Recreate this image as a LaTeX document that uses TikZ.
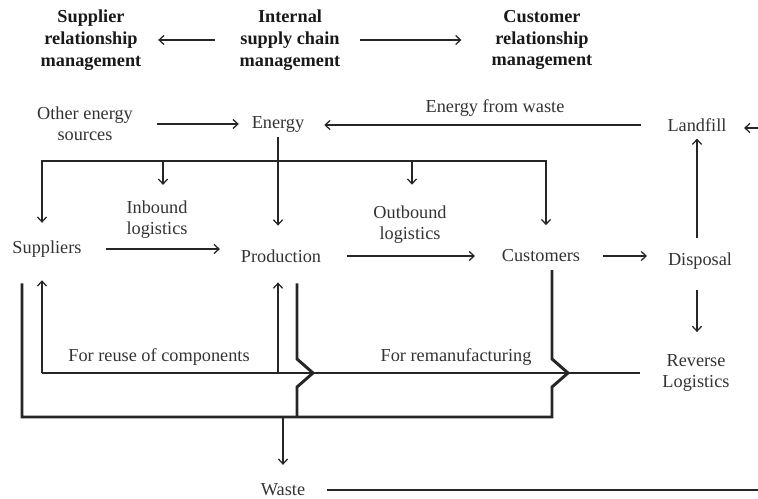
\documentclass[tikz,border=0pt]{standalone}
\usepackage{fontspec}
\setmainfont{Liberation Serif}
\usetikzlibrary{arrows.meta,calc}

\begin{document}
\begin{tikzpicture}[x=0.025cm,y=0.025cm,
    every node/.style={font=\fontsize{13}{15}\selectfont,text=black!80,align=center},
    head/.style={font=\fontsize{13}{15.6}\selectfont\bfseries,text=black!90},
    flow/.style={-{Straight Barb[length=3.5pt,width=6.5pt]},line width=0.9pt,black!85},
    pipe/.style={line width=2.1pt,black!85}]
  \useasboundingbox (0,0) rectangle (758,499);

  % management levels
  \node[head] (srm) at (91,459) {Supplier\\relationship\\management};
  \node[head] (iscm) at (290,459) {Internal\\supply chain\\management};
  \node[head] (crm) at (542,459) {Customer\\relationship\\management};
  \draw[flow,shorten <=14pt,shorten >=8.5pt] (iscm) -- (srm);
  \draw[flow,shorten <=10.7pt,shorten >=18pt] (iscm) -- (crm);

  % energy
  \node (other) at (85,375) {Other energy\\sources};
  \node (energy) at (278,375) {Energy};
  \node (landfill) at (697,374) {Landfill};
  \node (efw) at (495,391) {Energy from waste};
  \coordinate (fromright) at (758,371);
  \draw[flow,shorten <=13.5pt,shorten >=5.7pt] (other) -- (other -| energy.west);
  \draw[flow,shorten <=15.6pt,shorten >=10.7pt] (landfill) -- (landfill -| energy.east);
  \draw[flow,shorten >=9pt] (fromright) -- (fromright -| landfill.east);

  % main chain
  \node (supp) at (47,250) {Suppliers};
  \node (prod) at (281,243) {Production};
  \node (cust) at (541,243) {Customers};
  \node (disp) at (700,238) {Disposal};
  \node (rev) at (696,126) {Reverse\\Logistics};
  \node (inb) at (157,279) {Inbound\\logistics};
  \node (outb) at (410,274) {Outbound\\logistics};
  \draw[flow,shorten <=14pt,shorten >=11.4pt] (supp) -- (supp -| prod.west);
  \draw[flow,shorten <=15pt,shorten >=15.6pt] (prod) -- (cust);
  \draw[flow,shorten <=12.8pt,shorten >=11.4pt] (cust) -- (cust -| disp.west);
  \draw[flow,shorten <=7pt,shorten >=1.5pt] (disp.north -| landfill) -- (landfill);
  \draw[flow,shorten <=11.4pt,shorten >=12.4pt] (disp.south -| landfill) -- (landfill |- rev.north);

  % energy bus
  \coordinate (busW) at (42,338);
  \coordinate (busE) at (546,338);
  \coordinate (tapIn) at (163,338);
  \coordinate (tapOut) at (412,338);
  \draw[pipe] (energy) -- (energy |- busW);
  \draw[flow,shorten >=9.2pt] (busW) -- (busW |- supp.north);
  \draw[flow,shorten >=8pt] (tapIn) -- (tapIn |- inb.north);
  \draw[flow,shorten >=13.5pt] (energy |- busW) -- (energy |- prod.north);
  \draw[flow,shorten >=11.7pt] (tapOut) -- (tapOut |- outb.north);
  \draw[flow,shorten >=14pt] (busE) -- (busE |- cust.north);
  \draw[pipe,line cap=rect] (busW) -- (busE);

  % reverse logistics
  \node (reuse) at (159,142) {For reuse of components};
  \node (reman) at (456,142) {For remanufacturing};
  \draw[pipe,shorten <=12.8pt] (rev) -- (rev -| busW);
  \draw[flow,shorten >=12.8pt] (rev -| busW) -- (busW |- supp.south);
  \draw[flow,shorten >=10.7pt] (rev -| energy) -- (energy |- prod.south);

  % waste
  \node (waste) at (283,9) {Waste};
  \coordinate (wasteW) at (22,82);
  \coordinate (wasteP) at (297,82);
  \coordinate (wasteE) at (552,82);
  \coordinate (wasteEnd) at (758,9);
  \draw[pipe]
    ($(wasteE |- cust.south)+(0,-3)$) -- ($(wasteE |- rev)+(0,14)$) -- ++(16,-14) -- ++(-16,-14)
    -- (wasteE) -- (wasteW) -- ($(wasteW |- supp.south)+(0,-21)$);
  \draw[pipe]
    ($(wasteP |- prod.south)+(0,-16)$) -- ($(wasteP |- rev)+(0,14)$) -- ++(16,-14) -- ++(-16,-14)
    -- (wasteP);
  \draw[flow,shorten >=10pt] (waste |- wasteW) -- (waste);
  \draw[pipe,shorten <=12pt] (waste) -- (wasteEnd);
\end{tikzpicture}
\end{document}
